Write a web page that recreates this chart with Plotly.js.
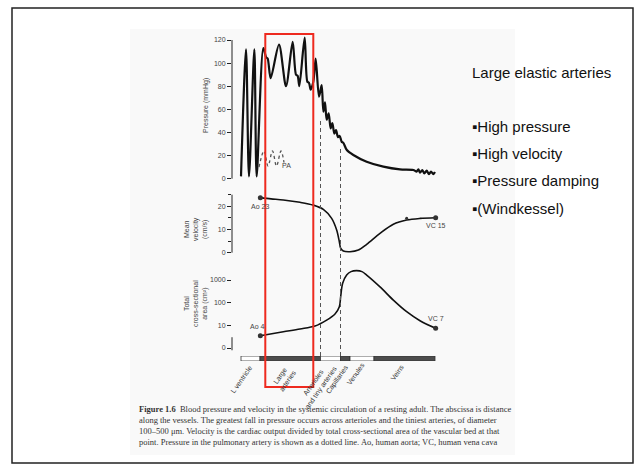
<!DOCTYPE html>
<html>
<head>
<meta charset="utf-8">
<script src="https://cdn.plot.ly/plotly-3.0.1.min.js"></script>
<style>html,body{margin:0;padding:0;background:#fff}#chart{width:639px;height:468px}</style>
</head>
<body>
<div id="chart"></div>
<script>
// ---- data (distance along the circulation, arbitrary units) ----
const distPressure = [0, 2.5, 4, 6.67, 7.83, 11.17, 12.6, 13.33, 14.83, 19, 22.5, 25.83, 27.5, 28.33, 29.17, 31.83, 33.17, 34, 34.83, 36.17, 37.33, 39, 40.33, 41.17, 42, 42.83, 43.83, 44.83, 45.67, 46.67, 47.5, 48.5, 49.33, 50.33, 51.17, 52.83, 56.17, 62.83, 71.17, 79.5, 86.17, 87.83, 88.67, 89.5, 90.67, 91.67, 92.83, 94, 95, 96.17, 97];
const pressure = [2, 112, 2, 112, 2, 113, 105, 104, 87, 116, 80, 118.5, 90, 89, 80, 122, 84, 83, 77, 84, 104, 71, 81, 58, 66, 51, 56.5, 43.5, 48, 39, 42, 36, 37, 32, 31, 25, 20.5, 14.7, 10.4, 8, 7.5, 6.1, 8.1, 5.2, 7.5, 4.6, 6.9, 4, 6.1, 4, 5.8];

const distPA = [9, 11.5, 13.5, 15.75, 17.75, 20, 21.5];
const pressurePA = [10, 24, 11, 24, 11, 24, 14];

const distVelocity = [9.67, 15, 21.17, 29.5, 36.17, 41.17, 45.33, 47.83, 49.17, 49.83, 51.17, 54.5, 58.67, 62.83, 69.5, 76.17, 82.83, 89.5, 97.33];
const velocity = [23.6, 23.1, 22.6, 21.6, 20.4, 18.6, 14.7, 9.7, 4.7, 1.9, 0.7, 0.4, 1.1, 3.6, 8.3, 12.2, 14, 14.7, 15.0];
const velocityLabels = ["Ao 23", "VC 15"];

const distArea = [9.67, 21.17, 29.5, 37, 42.83, 47, 49.17, 49.83, 50.83, 52.83, 55, 57.8, 60.5, 62.83, 69.5, 76.17, 82.83, 89.5, 97.33];
const area = [3.5, 5.2, 6.9, 9.3, 17, 31.6, 66, 183, 715, 1660, 2350, 2600, 2350, 1660, 500, 130, 40, 16, 7.4];
const areaLabels = ["Ao 4", "VC 7"];

const segStart = [0, 9.5, 39.75, 49.75, 54.5, 66.5];
const segEnd = [9.5, 39.75, 49.75, 54.5, 66.5, 97];
const segNames = ["L ventricle", "Large<br>arteries", "Arterioles<br>and tiny arteries", "Capillaries", "Venules", "Veins"];
const segLabelPos = [0, 21.5, 38, 48, 57, 78];

const pressureTicks = [0, 20, 40, 60, 80, 100, 120];
const velocityTicks = [0, 10, 20];
const velocityMinor = [5, 15, 25];
const areaTicks = [1, 10, 100, 1000];
const areaTickText = ["0", "10", "100", "1000"];

const heading = "Large elastic arteries";
const bullets = ["High pressure", "High velocity", "Pressure damping", "(Windkessel)"];
const caption = [
  "<b>Figure 1.6</b>  Blood pressure and velocity in the systemic circulation of a resting adult. The abscissa is distance",
  "along the vessels. The greatest fall in pressure occurs across arterioles and the tiniest arteries, of diameter",
  "100–500 μm. Velocity is the cardiac output divided by total cross-sectional area of the vascular bed at that",
  "point. Pressure in the pulmonary artery is shown as a dotted line. Ao, human aorta; VC, human vena cava"
];

// ---- layout helpers (pixel -> paper) ----
const W = 639, H = 468;
const X = px => px / W;
const Y = py => 1 - py / H;

const ink = "#222";
const txt = "#444";
const sans = "Liberation Sans, Arial, sans-serif";
const small = {family: sans, size: 7, color: txt};

const last = a => a[a.length - 1];

const traces = [
  {x: distPressure, y: pressure, xaxis: "x", yaxis: "y", mode: "lines",
   line: {color: "#111", width: 2.2, shape: "spline", smoothing: 0.8}, hoverinfo: "skip"},
  {x: distPA, y: pressurePA, xaxis: "x", yaxis: "y", mode: "lines",
   line: {color: "#555", width: 1.3, dash: "dot", shape: "spline"}, hoverinfo: "skip"},
  {x: distVelocity, y: velocity, xaxis: "x", yaxis: "y2", mode: "lines",
   line: {color: "#111", width: 1.6, shape: "spline", smoothing: 0.9}, hoverinfo: "skip"},
  {x: [distVelocity[0], last(distVelocity)], y: [velocity[0], last(velocity)], xaxis: "x", yaxis: "y2",
   mode: "markers", marker: {color: "#333", size: 5}, cliponaxis: false, hoverinfo: "skip"},
  {x: [distVelocity[16]], y: [velocity[16] + 0.8], xaxis: "x", yaxis: "y2",
   mode: "markers", marker: {color: "#333", size: 3}, hoverinfo: "skip"},
  {x: distArea, y: area, xaxis: "x", yaxis: "y3", mode: "lines",
   line: {color: "#111", width: 1.6, shape: "spline", smoothing: 0.9}, hoverinfo: "skip"},
  {x: [distArea[0], last(distArea)], y: [area[0], last(area)], xaxis: "x", yaxis: "y3",
   mode: "markers", marker: {color: "#333", size: 5}, cliponaxis: false, hoverinfo: "skip"},
  {type: "bar", orientation: "h", base: segStart, x: segEnd.map((e, i) => e - segStart[i]),
   y: segStart.map(() => 0), xaxis: "x", yaxis: "y4", width: 1,
   marker: {color: segStart.map((s, i) => i % 2 === 0 ? "#ffffff" : "#4d4d4d"), line: {color: "#333", width: 0.8}},
   hoverinfo: "skip"}
];

const yCommon = {anchor: "x", showgrid: false, zeroline: false, showline: false, ticks: "outside",
  ticklen: 4, tickcolor: ink, tickwidth: 1, tickfont: small, fixedrange: true};

const layout = {
  width: W, height: H,
  margin: {l: 0, r: 0, t: 0, b: 0},
  paper_bgcolor: "#ffffff", plot_bgcolor: "rgba(0,0,0,0)",
  showlegend: false,
  barmode: "overlay",
  xaxis: {domain: [X(232), X(442)], range: [-4.5, 100.5], visible: false, fixedrange: true},
  yaxis: Object.assign({}, yCommon, {domain: [Y(181), Y(35.4)], range: [-2, 124], tickvals: pressureTicks}),
  yaxis2: Object.assign({}, yCommon, {domain: [Y(255), Y(194.4)], range: [-1, 25], tickvals: velocityTicks,
    minor: {tickvals: velocityMinor, ticks: "outside", ticklen: 3, tickcolor: ink, showgrid: false}}),
  yaxis3: Object.assign({}, yCommon, {type: "log", domain: [Y(350.3), Y(268.7)], range: [-0.1, 3.5],
    tickvals: areaTicks, ticktext: areaTickText}),
  yaxis4: {anchor: "x", domain: [Y(361), Y(356)], range: [-0.5, 0.5], visible: false, fixedrange: true},
  shapes: [
    // figure (scanned page) background
    {type: "rect", xref: "paper", yref: "paper", x0: X(130), x1: X(515), y0: Y(455), y1: Y(29),
     fillcolor: "#f9f9f9", line: {width: 0}, layer: "below"},
    // slide border
    {type: "rect", xref: "paper", yref: "paper", x0: X(12), x1: X(633), y0: Y(463), y1: Y(8),
     line: {color: "#222", width: 1.5}},
    // axis lines
    {type: "line", xref: "paper", yref: "y", x0: X(232), x1: X(232), y0: 0, y1: 120, line: {color: ink, width: 1}},
    {type: "line", xref: "paper", yref: "y2", x0: X(232), x1: X(232), y0: 0, y1: 25, line: {color: ink, width: 1}},
    {type: "line", xref: "paper", yref: "y3", x0: X(232), x1: X(232), y0: 0, y1: 3, line: {color: ink, width: 1}},
    // dashed boundaries of the arterioles
    {type: "line", xref: "x", yref: "paper", x0: segStart[2], x1: segStart[2], y0: Y(356), y1: Y(120),
     line: {color: "#555", width: 1, dash: "4px,3px"}},
    {type: "line", xref: "x", yref: "paper", x0: segStart[3], x1: segStart[3], y0: Y(356), y1: Y(148),
     line: {color: "#555", width: 1, dash: "4px,3px"}},
    // red highlight box
    {type: "rect", xref: "paper", yref: "paper", x0: X(265.3), x1: X(313.3), y0: Y(387), y1: Y(34),
     line: {color: "#ee2a1f", width: 2}}
  ],
  annotations: []
};

const ann = layout.annotations;
const C = o => Object.assign({showarrow: false, xanchor: "center", yanchor: "middle"}, o);
// axis titles
ann.push(C({xref: "paper", yref: "paper", x: X(206), y: Y(106), text: "Pressure (mmHg)", textangle: -90, font: small}));
ann.push(C({xref: "paper", yref: "paper", x: X(196), y: Y(229), text: "Mean<br>velocity<br>(cm/s)", textangle: -90, font: small}));
ann.push(C({xref: "paper", yref: "paper", x: X(196), y: Y(304), text: "Total<br>cross-sectional<br>area (cm²)", textangle: -90, font: small}));
// point labels
ann.push(C({xref: "x", yref: "y", x: 22.75, y: 11, text: "PA", font: small}));
ann.push(C({xref: "x", yref: "y2", x: distVelocity[0], y: 19.7, text: velocityLabels[0], font: small}));
ann.push(C({xref: "x", yref: "y2", x: last(distVelocity), y: 11.7, text: velocityLabels[1], font: small}));
ann.push(C({xref: "x", yref: "y3", x: distArea[0] - 1.2, y: Math.log10(9.3), text: areaLabels[0], font: small}));
ann.push(C({xref: "x", yref: "y3", x: last(distArea), y: Math.log10(21), text: areaLabels[1], font: small}));
// vessel segment labels
const segLabelY = [379, 378, 385, 380, 374, 372];
segNames.forEach((n, i) => ann.push(C({xref: "x", yref: "paper", x: segLabelPos[i], y: Y(segLabelY[i]), text: n,
  textangle: -55, font: {family: sans, size: 7, color: "#333"}})));
// slide text
const slideFont = {family: sans, size: 15, color: "#111"};
ann.push(C({xref: "paper", yref: "paper", x: X(470), y: Y(72), xanchor: "left", text: heading, font: slideFont}));
const bulletY = [127, 154, 181, 208];
bullets.forEach((b, i) => ann.push(C({xref: "paper", yref: "paper", x: X(470), y: Y(bulletY[i]), xanchor: "left",
  text: "▪" + b, font: slideFont})));
// caption
const capY = [409, 420, 431, 442];
caption.forEach((c, i) => ann.push(C({xref: "paper", yref: "paper", x: X(137), y: Y(capY[i]), xanchor: "left",
  text: c, font: {family: "Liberation Serif, Times New Roman, serif", size: 8.5, color: "#333"}})));

Plotly.newPlot("chart", traces, layout, {staticPlot: true, displayModeBar: false});
</script>
</body>
</html>
